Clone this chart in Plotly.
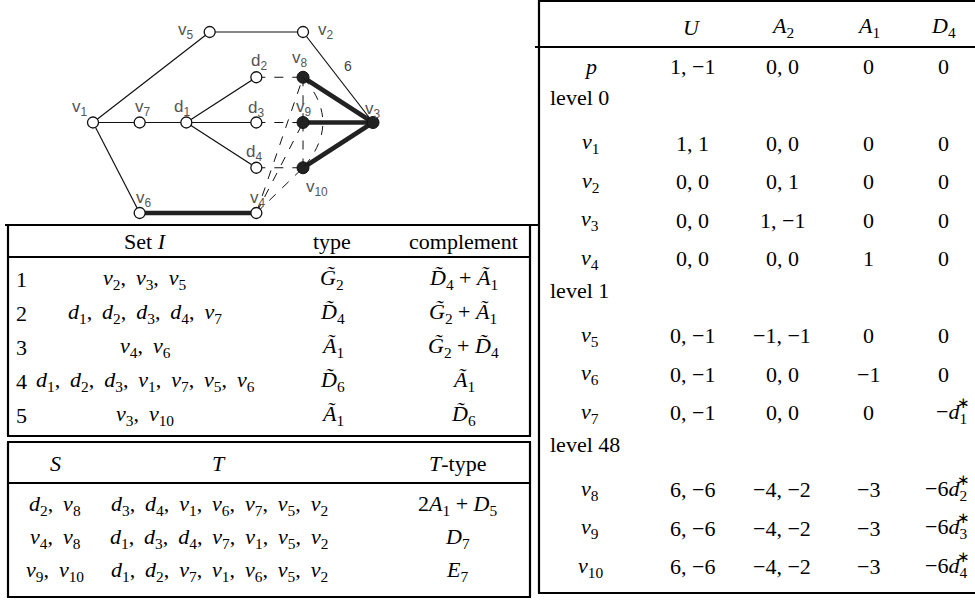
import re
import plotly.graph_objects as go

# ---------------- data ----------------
# graph: node positions in diagram units (column, row)
node_pos = {
    "v1": (0, 2), "v2": (4.5, 0), "v3": (6, 2), "v4": (3.5, 4), "v5": (2.5, 0),
    "v6": (1, 4), "v7": (1, 2), "v8": (4.5, 1), "v9": (4.5, 2), "v10": (4.5, 3),
    "d1": (2, 2), "d2": (3.5, 1), "d3": (3.5, 2), "d4": (3.5, 3),
}
filled_nodes = ["v3", "v8", "v9", "v10"]
thin_edges = [("v1", "v5"), ("v5", "v2"), ("v2", "v3"), ("v1", "v7"), ("v7", "d1"),
              ("d1", "d2"), ("d1", "d3"), ("d1", "d4"), ("v1", "v6")]
thick_edges = [("v6", "v4"), ("v8", "v3"), ("v9", "v3"), ("v10", "v3")]
dashed_edges = [("d2", "v8"), ("d3", "v9"), ("d4", "v10"), ("v8", "v9"), ("v9", "v10"),
                ("v4", "v8"), ("v4", "v9"), ("v4", "v10")]
curved_edges = [("v8", "v10")]
edge_weight = {("v2", "v3"): "6"}

# table 1
set_ids = ["1", "2", "3", "4", "5"]
set_members = ["v2, v3, v5", "d1, d2, d3, d4, v7", "v4, v6",
               "d1, d2, d3, v1, v7, v5, v6", "v3, v10"]
set_types = ["G~2", "D~4", "A~1", "D~6", "A~1"]
set_complements = ["D~4 + A~1", "G~2 + A~1", "G~2 + D~4", "A~1", "D~6"]

# table 2
s_sets = ["d2, v8", "v4, v8", "v9, v10"]
t_sets = ["d3, d4, v1, v6, v7, v5, v2", "d1, d3, d4, v7, v1, v5, v2",
          "d1, d2, v7, v1, v6, v5, v2"]
t_types = ["2A1 + D5", "D7", "E7"]

# table 3
col_heads = ["U", "A2", "A1", "D4"]
row_labels = ["p", "level 0", "v1", "v2", "v3", "v4", "level 1", "v5", "v6", "v7",
              "level 48", "v8", "v9", "v10"]
u_vals = ["1, −1", "", "1, 1", "0, 0", "0, 0", "0, 0", "", "0, −1", "0, −1", "0, −1",
          "", "6, −6", "6, −6", "6, −6"]
a2_vals = ["0, 0", "", "0, 0", "0, 1", "1, −1", "0, 0", "", "−1, −1", "0, 0", "0, 0",
           "", "−4, −2", "−4, −2", "−4, −2"]
a1_vals = ["0", "", "0", "0", "0", "1", "", "0", "−1", "0", "", "−3", "−3", "−3"]
d4_vals = ["0", "", "0", "0", "0", "0", "", "0", "0", "−d1*", "", "−6d2*", "−6d3*", "−6d4*"]


def fmt(s, wide=False):
    if s.startswith("level"):
        return s

    def rep(m):
        letter, tilde, sub = m.groups()
        out = "<i>" + letter + ("\u0303" if tilde else "") + "</i>"
        if sub:
            out += "<sub>" + sub + "</sub>"
        return out
    out = re.sub(r"([A-Za-z])(~?)(\d*)", rep, s.replace("*", ""))
    if wide:
        out = out.replace(", ", ",\u2009 ")
    return out


W, H = 975, 602
SERIF = "Liberation Serif"
FS = 22

fig = go.Figure()

# ---------------- graph ----------------
def seg(edges):
    xs, ys = [], []
    for a, b in edges:
        xs += [node_pos[a][0], node_pos[b][0], None]
        ys += [node_pos[a][1], node_pos[b][1], None]
    return xs, ys

for edges, width, dash, col in [(thin_edges, 1.2, "solid", "#111"),
                                (dashed_edges, 1, "dash", "#111"),
                                (thick_edges, 4.5, "solid", "#222")]:
    xs, ys = seg(edges)
    fig.add_trace(go.Scatter(x=xs, y=ys, mode="lines", xaxis="x2", yaxis="y2",
                             line=dict(color=col, width=width, dash=dash),
                             hoverinfo="skip", showlegend=False))

for a, b in curved_edges:
    (xa, ya), (xb, yb) = node_pos[a], node_pos[b]
    cx, cy = xa + 0.85, (ya + yb) / 2
    fig.add_shape(type="path", xref="x2", yref="y2",
                  path=f"M {xa},{ya} Q {cx},{cy} {xb},{yb}",
                  line=dict(color="#111", width=1, dash="dash"))

open_nodes = [n for n in node_pos if n not in filled_nodes]
fig.add_trace(go.Scatter(x=[node_pos[n][0] for n in open_nodes],
                         y=[node_pos[n][1] for n in open_nodes],
                         mode="markers", xaxis="x2", yaxis="y2",
                         marker=dict(size=11, color="white", line=dict(color="#111", width=1.3)),
                         hoverinfo="skip", showlegend=False))
fig.add_trace(go.Scatter(x=[node_pos[n][0] for n in filled_nodes],
                         y=[node_pos[n][1] for n in filled_nodes],
                         mode="markers", xaxis="x2", yaxis="y2",
                         marker=dict(size=12, color="#222", line=dict(color="#111", width=1)),
                         hoverinfo="skip", showlegend=False))

label_shift = {
    "v1": (-13, 15), "v2": (23, 1), "v3": (0, 13), "v4": (2, 14), "v5": (-24, 1),
    "v6": (4, 14), "v7": (3, 15), "v8": (-3, 18), "v9": (1, 15), "v10": (14, -20),
    "d1": (-4, 15), "d2": (3, 15), "d3": (0, 14), "d4": (-2, 15),
}
for n, (dx, dy) in label_shift.items():
    fig.add_annotation(x=node_pos[n][0], y=node_pos[n][1], xref="x2", yref="y2",
                       text=n[0] + "<sub>" + n[1:] + "</sub>", showarrow=False,
                       xshift=dx, yshift=dy,
                       font=dict(family="Liberation Sans", size=17, color="#555"))
for (a, b), w in edge_weight.items():
    fig.add_annotation(x=(node_pos[a][0] + node_pos[b][0]) / 2,
                       y=(node_pos[a][1] + node_pos[b][1]) / 2, xref="x2", yref="y2",
                       text=w, showarrow=False, xshift=10, yshift=11,
                       font=dict(family="Liberation Sans", size=14, color="#444"))

# ---------------- tables ----------------
def txt(x, y, s, anchor="center", size=FS, yshift=0):
    fig.add_annotation(x=x, y=y, xref="x", yref="y", text=s, showarrow=False,
                       xanchor=anchor, yanchor="middle", yshift=yshift,
                       font=dict(family=SERIF, size=size, color="black"))


def hline(x0, x1, y, w=2.2):
    fig.add_shape(type="line", xref="x", yref="y", x0=x0, x1=x1, y0=y, y1=y,
                  line=dict(color="black", width=w))


def vline(x, y0, y1, w=2.2):
    fig.add_shape(type="line", xref="x", yref="y", x0=x, x1=x, y0=y0, y1=y1,
                  line=dict(color="black", width=w))

# table 1
t1_top, t1_head, t1_line, t1_bot = 225, 241, 257, 436
t1_rows = [279, 313, 347, 381, 415]
hline(5, 539, t1_top)
hline(7, 531, t1_line)
hline(7, 531, t1_bot)
vline(8, t1_top, t1_bot)
vline(530, t1_top, t1_bot)
txt(145, t1_head, "Set <i>I</i>")
txt(332, t1_head, "type")
txt(463, t1_head, "complement")
for i, y in enumerate(t1_rows):
    txt(14, y, set_ids[i], anchor="left")
    txt(145, y, fmt(set_members[i], wide=True))
    txt(332, y, fmt(set_types[i]))
    txt(463, y, fmt(set_complements[i]))

# table 2
t2_top, t2_head, t2_line, t2_bot = 442, 463, 483, 597
t2_rows = [505, 538, 571]
hline(7, 531, t2_top)
hline(7, 531, t2_line)
hline(7, 531, t2_bot)
vline(8, t2_top, t2_bot)
vline(530, t2_top, t2_bot)
txt(55, t2_head, "<i>S</i>")
txt(219, t2_head, "<i>T</i>")
txt(457, t2_head, "<i>T</i>-type")
for i, y in enumerate(t2_rows):
    txt(55, y, fmt(s_sets[i], wide=True))
    txt(219, y, fmt(t_sets[i], wide=True))
    txt(457, y, fmt(t_types[i]))

# table 3
t3_head, t3_line, t3_bot = 27, 47, 593
t3_y0, t3_step = 66, 38.5
hline(539, 975, 1)
hline(535, 975, t3_line)
hline(538, 975, t3_bot)
vline(539, 0, t3_bot)
col_x = [692, 782, 868, 943]
for cx, h in zip(col_x, col_heads):
    txt(cx, t3_head, fmt(h))
for i, lab in enumerate(row_labels):
    y = t3_y0 + i * t3_step
    if lab.startswith("level"):
        txt(548, y, lab, anchor="left", yshift=7)
        continue
    txt(590, y, fmt(lab))
    for cx, vals in zip(col_x, [u_vals, a2_vals, a1_vals, d4_vals]):
        v = vals[i]
        if "*" in v:
            # starred entries: right-aligned, star set above the subscript
            txt(969, y, fmt(v), anchor="right")
            txt(963, y, "∗", size=15, yshift=10)
        else:
            txt(cx, y, fmt(v))

gx0, gux, gy0, guy = 93, 46.67, 32, 45.25
gdom = 0.45
gy_bot = 226
fig.update_layout(
    width=W, height=H, margin=dict(l=0, r=0, t=0, b=0),
    plot_bgcolor="white", paper_bgcolor="white",
    xaxis=dict(range=[0, W], domain=[0, 1], visible=False, fixedrange=True),
    yaxis=dict(range=[H, 0], domain=[0, 1], visible=False, fixedrange=True),
    xaxis2=dict(range=[-gx0 / gux, (gdom * W - gx0) / gux], domain=[0, gdom],
                visible=False, anchor="y2", fixedrange=True),
    yaxis2=dict(range=[(gy_bot - gy0) / guy, -gy0 / guy], domain=[1 - gy_bot / H, 1],
                visible=False, anchor="x2", fixedrange=True),
)

fig.write_html("out.html", config={"displayModeBar": False},
               post_script="document.body.style.margin='0';document.body.style.overflow='hidden';")
